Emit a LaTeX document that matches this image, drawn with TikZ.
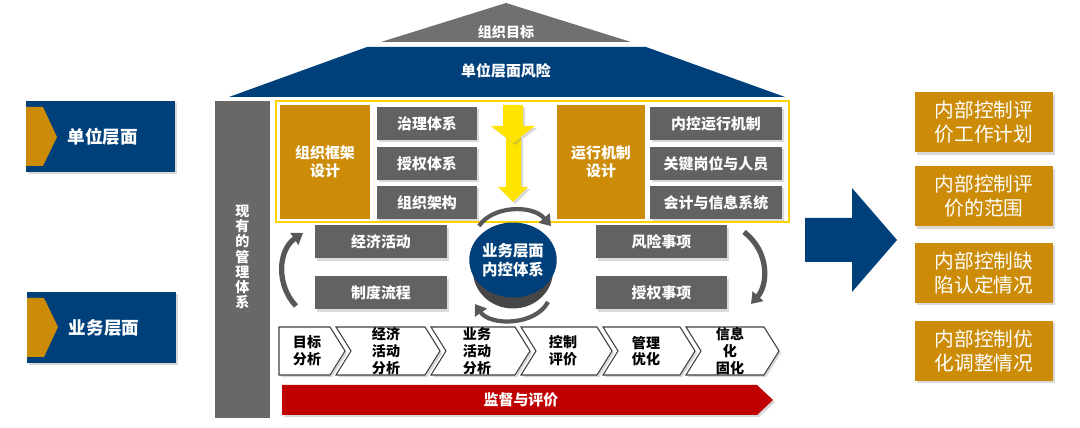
\documentclass[tikz,border=0pt]{standalone}
\usepackage{fontspec}
\setmainfont{Noto Sans CJK SC}
\usetikzlibrary{arrows.meta,shadows,shapes.geometric}

\definecolor{lvlnavy}{RGB}{0,64,122}
\definecolor{lvlgold}{RGB}{204,140,8}
\definecolor{lvlgrey}{RGB}{98,98,98}
\definecolor{lvlbar}{RGB}{104,104,104}
\definecolor{lvlroof}{RGB}{112,112,112}
\definecolor{lvlframe}{RGB}{255,210,0}
\definecolor{lvlarrow}{RGB}{255,228,0}
\definecolor{lvlred}{RGB}{192,0,0}
\definecolor{lvlcurve}{RGB}{88,88,88}

\begin{document}
\begin{tikzpicture}[x=0.02cm,y=-0.02cm,
  boxshadow/.style={drop shadow={opacity=0.3,shadow xshift=1.2pt,shadow yshift=-1.2pt}},
  lvlbox/.style={fill=lvlnavy,minimum width=2.98cm,minimum height=1.42cm,inner sep=0pt,text=white,font=\bfseries\fontsize{10}{12}\selectfont,boxshadow},
  greybox/.style={fill=lvlgrey,minimum width=#1,minimum height=0.66cm,inner sep=0pt,text=white,font=\bfseries\fontsize{8.5}{10}\selectfont,boxshadow},
  greybox/.default=2cm,
  designbox/.style={fill=lvlgold,minimum width=#1,minimum height=2.28cm,inner sep=0pt,align=center,text=white,font=\bfseries\fontsize{8.5}{10.5}\selectfont},
  resultbox/.style={fill=lvlgold,minimum width=2.76cm,minimum height=1.2cm,inner sep=0pt,align=center,text=white,font=\fontsize{11.2}{13.6}\selectfont,boxshadow},
  stepbox/.style={fill=white,draw=black!75,line width=0.6pt,boxshadow},
  steptext/.style={align=center,font=\bfseries\fontsize{8}{9.5}\selectfont},
  loopline/.style={draw=lvlcurve,line width=2.4pt,-{Triangle[width=8pt,length=6pt]}},
]
\useasboundingbox (0,0) rectangle (1080,428);

% level labels on the left
\node[lvlbox] (unitlvl) at (100.5,136.5) {\hspace*{0.1cm}单位层面};
\fill[lvlgold] (26,107) -- (43,107) -- (57,137) -- (43,166) -- (26,166) -- cycle;
\node[lvlbox] (bizlvl) at (101.5,327.5) {\hspace*{0.1cm}业务层面};
\fill[lvlgold] (27,298) -- (44,298) -- (58,327) -- (44,357) -- (27,357) -- cycle;

% roof
\fill[lvlroof] (506,3) -- (631,42) -- (381,42) -- cycle;
\node[text=white,font=\bfseries\fontsize{8}{10}\selectfont] (goal) at (506,32) {组织目标};
\fill[lvlnavy] (367,47) -- (646,47) -- (785,97) -- (229,97) -- cycle;
\node[text=white,font=\bfseries\fontsize{8.5}{10}\selectfont] (unitrisk) at (506,71) {单位层面风险};

% left pillar
\node[fill=lvlbar,minimum width=1.1cm,minimum height=6.34cm,inner sep=0pt] (mgmt) at (242.5,259.5) {};
\node[text=white,align=center,font=\bfseries\fontsize{8}{8.6}\selectfont] (mgmttext) at (242.5,257)
  {现\\有\\的\\管\\理\\体\\系};

% unit level block
\draw[lvlframe,line width=1.6pt] (276,101) rectangle (789,222);
\node[designbox=1.8cm] (orgdesign) at (325,162) {组织框架\\设计};
\node[greybox] (govern) at (427,123.5) {治理体系};
\node[greybox] (authsys) at (427,163.5) {授权体系};
\node[greybox] (orgstruct) at (427,202.5) {组织架构};
\node[designbox=1.76cm] (rundesign) at (601,162) {运行机制\\设计};
\node[greybox=2.64cm] (runmech) at (716,123.5) {内控运行机制};
\node[greybox=2.64cm] (keypost) at (716,163.5) {关键岗位与人员};
\node[greybox=2.64cm] (infosys) at (716,202.5) {会计与信息系统};
\fill[lvlarrow,boxshadow] (506,138) -- (521,138) -- (521,187) -- (528,187) -- (513,202) -- (498,187) -- (506,187) -- cycle;
\fill[lvlarrow,boxshadow] (503,105) -- (523,105) -- (523,126) -- (535,126) -- (513,143) -- (491,126) -- (503,126) -- cycle;

% business level block
\node[greybox=2.64cm] (econ) at (381,242) {经济活动};
\node[greybox=2.64cm] (proc) at (381,293) {制度流程};
\node[greybox=2.62cm] (risk) at (661.5,242) {风险事项};
\node[greybox=2.62cm] (authitem) at (661.5,293) {授权事项};
\fill[lvlcurve] (473,260) rectangle (553,271);
\fill[lvlcurve!80!black] (513,271) ellipse [x radius=0.8cm,y radius=0.75cm];
\node[ellipse,fill=lvlnavy,minimum width=1.6cm,minimum height=1.5cm,inner sep=0pt,text=white,align=center,
  font=\bfseries\fontsize{8.8}{10.8}\selectfont] (core) at (513,260) {业务层面\\内控体系};
\coordinate (coretopa) at (479,226);
\coordinate (coretopb) at (551,226);
\coordinate (corebota) at (548,302);
\coordinate (corebotb) at (475,304);
\draw[loopline] (coretopa) .. controls (492,206) and (532,204) .. (coretopb);
\draw[loopline] (corebota) .. controls (535,326) and (490,326) .. (corebotb);
\coordinate (leftloopa) at (296,306);
\coordinate (leftloopb) at (303,233);
\coordinate (rightloopa) at (744,232);
\coordinate (rightloopb) at (751,304);
\draw[loopline,line width=3pt] (leftloopa) .. controls (276,285) and (278,250) .. (leftloopb);
\draw[loopline,line width=3pt] (rightloopa) .. controls (770,252) and (768,285) .. (rightloopb);

% process chevrons
\draw[stepbox] (279,327) -- (330,327) -- (345,351) -- (330,375) -- (279,375) -- cycle;
\draw[stepbox] (336,327) -- (425,327) -- (440,351) -- (425,375) -- (336,375) -- (351,351) -- cycle;
\draw[stepbox] (431,327) -- (515,327) -- (530,351) -- (515,375) -- (431,375) -- (446,351) -- cycle;
\draw[stepbox] (521,327) -- (597,327) -- (612,351) -- (597,375) -- (521,375) -- (536,351) -- cycle;
\draw[stepbox] (603,327) -- (680,327) -- (695,351) -- (680,375) -- (603,375) -- (618,351) -- cycle;
\draw[stepbox] (686,327) -- (764,327) -- (779,351) -- (764,375) -- (686,375) -- (701,351) -- cycle;
\node[steptext] (stepgoal) at (307,351) {目标\\分析};
\node[steptext] (stepecon) at (386,351) {经济\\活动\\分析};
\node[steptext] (stepbiz) at (477,351) {业务\\活动\\分析};
\node[steptext] (stepctrl) at (563,351) {控制\\评价};
\node[steptext] (stepopt) at (646,351) {管理\\优化};
\node[steptext] (stepinfo) at (730,351) {信息\\化\\固化};

% supervision bar
\fill[lvlred,boxshadow] (282,385) -- (757,385) -- (773,400) -- (757,415) -- (282,415) -- cycle;
\node[text=white,font=\bfseries\fontsize{8.5}{10}\selectfont] (audit) at (521,400) {监督与评价};

% outcome
\fill[lvlnavy] (805,218) -- (852,218) -- (852,188) -- (897,240) -- (852,292) -- (852,262) -- (805,262) -- cycle;
\node[resultbox] (plan) at (984,122.5) {内部控制评\\价工作计划};
\node[resultbox] (scope) at (984,196.5) {内部控制评\\价的范围};
\node[resultbox] (defect) at (984,273) {内部控制缺\\陷认定情况};
\node[resultbox] (adjust) at (984,351) {内部控制优\\化调整情况};
\end{tikzpicture}
\end{document}
